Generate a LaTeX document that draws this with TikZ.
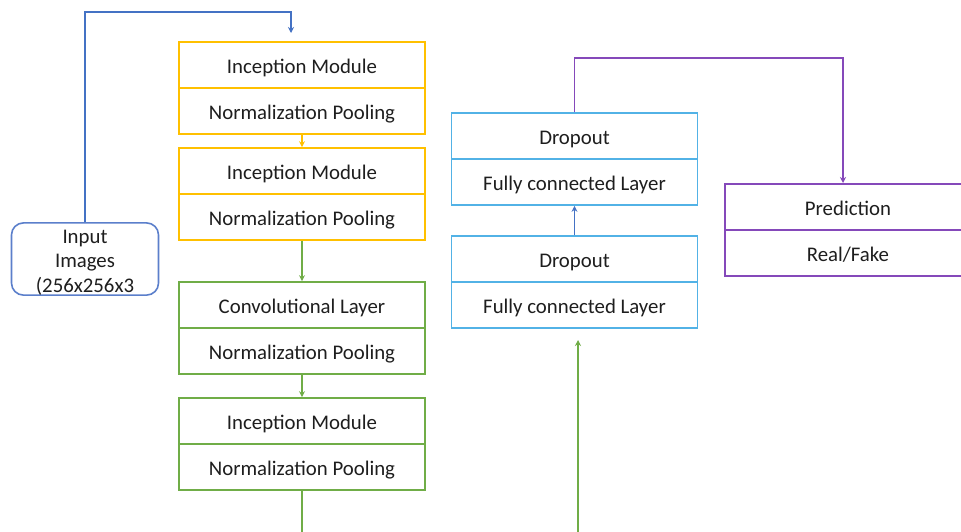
\documentclass[tikz,border=0pt]{standalone}
\usepackage{fontspec}
\setmainfont{Carlito}
\usetikzlibrary{arrows.meta,calc}
\definecolor{orng}{HTML}{FFC000}
\definecolor{grn}{HTML}{70AD47}
\definecolor{skyb}{HTML}{52B2E6}
\definecolor{conb}{HTML}{4472C4}
\definecolor{purp}{HTML}{8549BA}
\definecolor{inb}{HTML}{5B7FCB}
\definecolor{txt}{HTML}{1E1E1E}
\tikzset{
  cell/.style={draw, line width=1.7pt, minimum width=246pt, minimum height=46pt, inner sep=0pt,
    text height=16pt, text depth=0pt,
    text=txt, font=\fontsize{20.8}{24}\selectfont},
  conn/.style={line width=1.4pt, -{Stealth[length=6pt,width=6pt]}},
}
\begin{document}
\begin{tikzpicture}[x=1pt,y=-1pt]
\clip (0,0) rectangle (961,531);
\fill[white] (0,0) rectangle (961,531);
% left column
\node[cell,draw=orng] (b1a) at (302,65) {Inception Module};
\node[cell,draw=orng] (b1b) at (302,111) {Normalization Pooling};
\node[cell,draw=orng] (b2a) at (302,171) {Inception Module};
\node[cell,draw=orng] (b2b) at (302,217) {Normalization Pooling};
\node[cell,draw=grn] (b3a) at (302,305) {Convolutional Layer};
\node[cell,draw=grn] (b3b) at (302,351) {Normalization Pooling};
\node[cell,draw=grn] (b4a) at (302,421) {Inception Module};
\node[cell,draw=grn] (b4b) at (302,467) {Normalization Pooling};
% middle column
\node[cell,draw=skyb] (f1a) at (574.5,136) {Dropout};
\node[cell,draw=skyb] (f1b) at (574.5,182) {Fully connected Layer};
\node[cell,draw=skyb] (f2a) at (574.5,259) {Dropout};
\node[cell,draw=skyb] (f2b) at (574.5,305) {Fully connected Layer};
% right
\node[cell,draw=purp] (pa) at (848,207) {Prediction};
\node[cell,draw=purp] (pb) at (848,253) {Real/Fake};
% input
\node[draw=inb, line width=1.6pt, rounded corners=12pt, minimum width=147pt, minimum height=72pt,
  inner sep=0pt, text=txt, font=\fontsize{20.8}{24.5}\selectfont] (in) at (85,259)
  {\parbox{140pt}{\centering\vspace*{7pt}Input\\Images\\(256x256x3}};
% connectors
\coordinate (t1) at (291,33);
\draw[conn,conb] (in.north) -- ++(0,-210) -| (t1);
\draw[conn,orng] (b1b.south) -- (b2a.north);
\draw[conn,grn] (b2b.south) -- (b3a.north);
\draw[conn,grn] (b3b.south) -- (b4a.north);
\coordinate (gb) at (302,540);
\draw[grn,line width=1.4pt] (b4b.south) -- (gb);
\coordinate (gs) at (578,540);
\coordinate (ge) at (578,340);
\draw[conn,grn] (gs) -- (ge);
\draw[conn,conb] (f2a.north) -- (f1b.south);
\coordinate (pt) at (843,183);
\draw[conn,purp] (f1a.north) -- ++(0,-54) -| (pt);
\end{tikzpicture}
\end{document}
